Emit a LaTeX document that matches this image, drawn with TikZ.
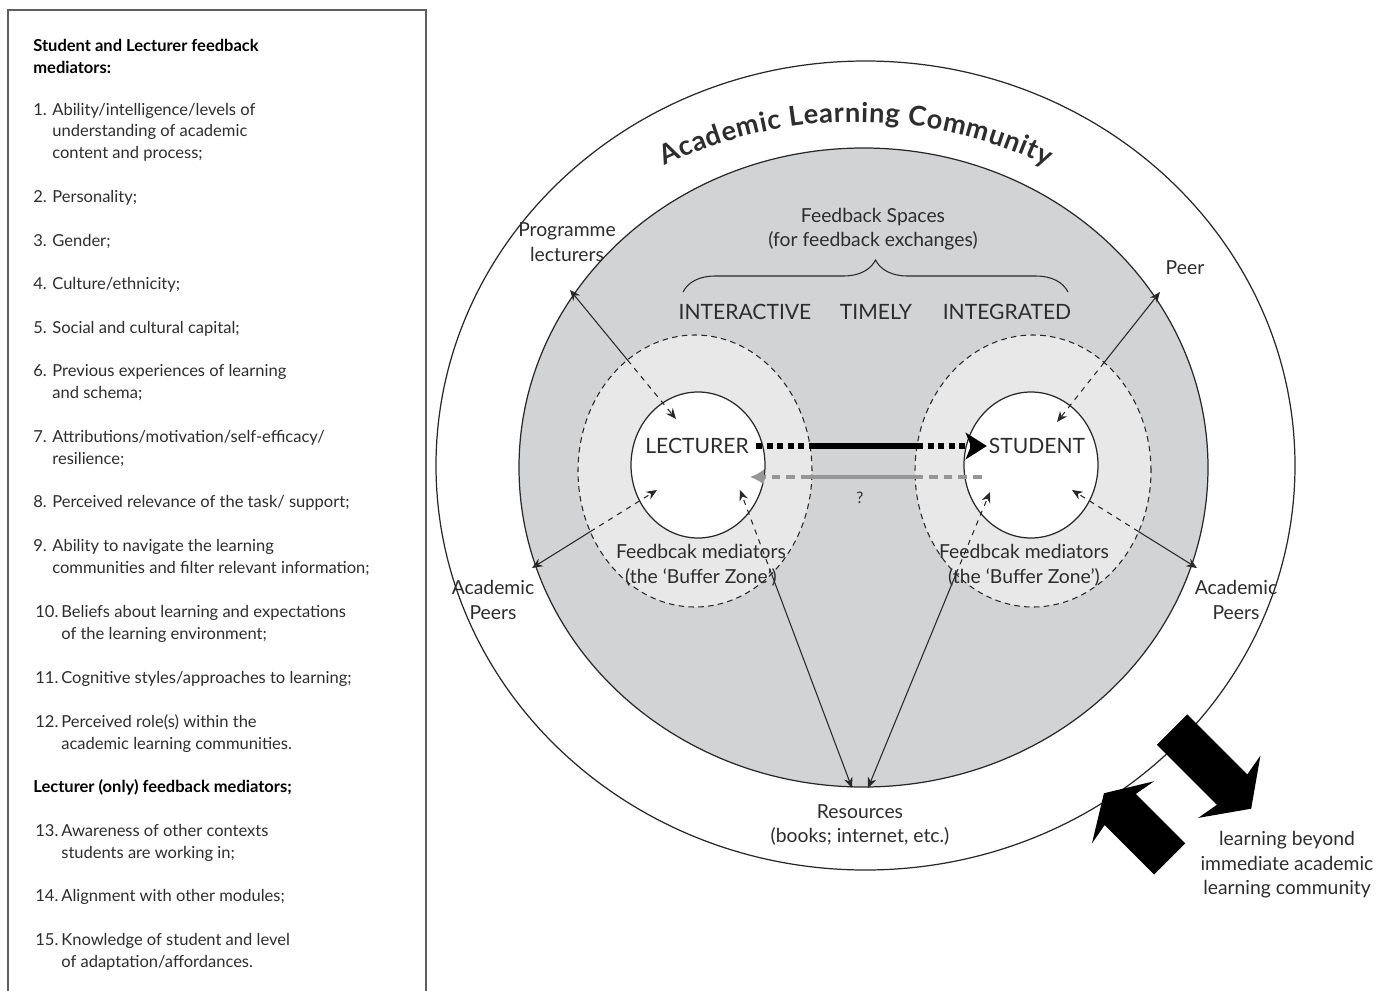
\documentclass[tikz,border=0pt]{standalone}
\usepackage{fontspec}
\setmainfont{Lato}
\usetikzlibrary{arrows.meta,decorations.text,decorations.pathreplacing}
\definecolor{figline}{RGB}{40,40,40}
\definecolor{figtext}{RGB}{45,45,45}
\definecolor{figframe}{RGB}{95,95,95}
\definecolor{figband}{RGB}{210,211,213}
\definecolor{figbuffer}{RGB}{232,232,233}
\definecolor{figback}{RGB}{150,150,150}
\tikzset{
  frame/.style ={draw=figframe, line width=0.9pt},
  ring/.style  ={draw=figline, line width=0.7pt},
  zone/.style  ={draw=figline, line width=0.6pt, dash pattern=on 3.2pt off 2.4pt},
  head/.style  ={font=\fontsize{9.4}{12.2}\selectfont\bfseries, text=black, inner sep=0pt, anchor=base west, align=left},
  num/.style   ={font=\fontsize{9.4}{12.2}\selectfont, text=figtext, inner sep=0pt, anchor=base west},
  item/.style  ={font=\fontsize{9.4}{12.2}\selectfont, text=figtext, inner sep=0pt, anchor=base west, align=left},
  lab/.style   ={font=\fontsize{11}{14}\selectfont, text=figtext, inner sep=1pt, align=center},
  caps/.style  ={font=\fontsize{12}{14}\selectfont, text=figtext, inner sep=1pt},
  link/.style  ={draw=figline, line width=0.6pt, -{Stealth[length=6pt,width=5pt]}},
  fwddot/.style={draw=black, line width=3pt, dash pattern=on 3.4pt off 2.6pt},
  fwdline/.style={draw=black, line width=3pt},
  backdot/.style={draw=figback, line width=2.8pt, dash pattern=on 5pt off 3.4pt},
  backline/.style={draw=figback, line width=2.8pt},
}
\newcommand\titlefont{\fontsize{15.5}{19}\selectfont\bfseries}
\begin{document}
\begin{tikzpicture}[x=0.02cm,y=0.02cm]
  \useasboundingbox (0,0) rectangle (1377,-991);
  % mediators panel (multi-line items sit on their last baseline)
  \draw[frame] (8,-1010) -- (8,-10) -- (426,-10) -- (426,-1010);
  \node[head] (medhead) at (33,-73) {Student and Lecturer feedback\\mediators:};
  \node[num] (n1) at (33,-115) {1.};
  \node[item] (m1) at (52,-158) {Ability/intelligence/levels of\\understanding of academic\\content and process;};
  \node[num] (n2) at (33,-202) {2.};
  \node[item] (m2) at (52,-202) {Personality;};
  \node[num] (n3) at (33,-246) {3.};
  \node[item] (m3) at (52,-246) {Gender;};
  \node[num] (n4) at (33,-289) {4.};
  \node[item] (m4) at (52,-289) {Culture/ethnicity;};
  \node[num] (n5) at (33,-333) {5.};
  \node[item] (m5) at (52,-333) {Social and cultural capital;};
  \node[num] (n6) at (33,-376) {6.};
  \node[item] (m6) at (52,-398) {Previous experiences of learning\\and schema;};
  \node[num] (n7) at (33,-442) {7.};
  \node[item] (m7) at (52,-464) {Attributions/motivation/self-efficacy/\\resilience;};
  \node[num] (n8) at (33,-507) {8.};
  \node[item] (m8) at (52,-507) {Perceived relevance of the task/ support;};
  \node[num] (n9) at (33,-551) {9.};
  \node[item] (m9) at (52,-573) {Ability to navigate the learning\\communities and filter relevant information;};
  \node[num] (n10) at (35,-617) {10.};
  \node[item] (m10) at (61,-639) {Beliefs about learning and expectations\\of the learning environment;};
  \node[num] (n11) at (35,-683) {11.};
  \node[item] (m11) at (61,-683) {Cognitive styles/approaches to learning;};
  \node[num] (n12) at (35,-727) {12.};
  \node[item] (m12) at (61,-749) {Perceived role(s) within the\\academic learning communities.};
  \node[head] (lechead) at (33,-792) {Lecturer (only) feedback mediators;};
  \node[num] (n13) at (35,-836) {13.};
  \node[item] (m13) at (61,-858) {Awareness of other contexts\\students are working in;};
  \node[num] (n14) at (35,-901) {14.};
  \node[item] (m14) at (61,-901) {Alignment with other modules;};
  \node[num] (n15) at (35,-945) {15.};
  \node[item] (m15) at (61,-967) {Knowledge of student and level\\of adaptation/affordances.};

  % community rings
  \draw[ring, fill=white] (865.5,-465.5) ellipse [x radius=429.5, y radius=404.5];
  \draw[ring, fill=figband] (863.5,-467.5) ellipse [x radius=344.5, y radius=319.5];
  \draw[zone, fill=figbuffer] (695,-471) ellipse [x radius=117, y radius=136];
  \draw[zone, fill=figbuffer] (1033,-471) ellipse [x radius=118, y radius=136];
  \draw[ring, fill=white] (698,-465) ellipse [x radius=67, y radius=73];
  \draw[ring, fill=white] (1031,-465) ellipse [x radius=67, y radius=73];
  \path[decorate, decoration={text effects along path, text={Academic Learning Community},
      text align=center, text effects/.cd, text along path,
      character widths={inner xsep=0.2pt, font=\titlefont},
      characters={text=figtext, font=\titlefont}}]
    (856,-560) ++(125:438) arc[start angle=125, end angle=55, radius=438];

  % feedback spaces
  \node[lab] (spaces) at (873,-229) {Feedback Spaces\\(for feedback exchanges)};
  \draw[figline, line width=0.6pt, decorate, decoration={brace, amplitude=0.64cm}] (683,-292) -- (1068,-292);
  \node[caps] (interactive) at (745,-312) {INTERACTIVE};
  \node[caps] (timely) at (876,-312) {TIMELY};
  \node[caps] (integrated) at (1007,-312) {INTEGRATED};

  \node[caps] (lecturer) at (697,-446) {LECTURER};
  \node[caps] (student) at (1037,-446) {STUDENT};
  \coordinate (fwdL) at (810,-446);
  \coordinate (fwdS) at (917,-446);
  \draw[fwddot, shorten <=3pt] (lecturer.east) -- (fwdL);
  \draw[fwdline] (fwdL) -- (fwdS);
  \draw[fwddot, -{Stealth[length=12pt,width=15pt,inset=3pt]}] (fwdS) -- (student.west);
  \coordinate (backS) at (982,-477);
  \coordinate (backR) at (917,-477);
  \coordinate (backL) at (810,-477);
  \coordinate (backtip) at (750,-477);
  \draw[backdot] (backS) -- (backR);
  \draw[backline] (backR) -- (backL);
  \draw[backdot, -{Latex[length=8pt,width=9pt]}] (backL) -- (backtip);
  \node[font=\fontsize{9}{11}\selectfont, text=figtext] (query) at (860,-498) {?};

  \node[lab] (medL) at (701,-565) {Feedbcak mediators\\(the ‘Buffer Zone’)};
  \node[lab] (medS) at (1024,-565) {Feedbcak mediators\\(the ‘Buffer Zone’)};

  % outer links
  \node[lab] (prog) at (567,-242) {Programme\\lecturers};
  \node[lab] (acpL) at (493,-600) {Academic\\Peers};
  \node[lab] (peer) at (1185,-268) {Peer};
  \node[lab] (acpR) at (1236,-600) {Academic\\Peers};
  \node[lab] (res) at (860,-825) {Resources\\(books; internet, etc.)};
  \coordinate (progtip) at (570,-290);
  \coordinate (progcut) at (627.5,-360);
  \coordinate (proglec) at (676,-419);
  \coordinate (alptip) at (532,-568);
  \coordinate (alpcut) at (590.3,-531.6);
  \coordinate (alplec) at (657,-490);
  \coordinate (peertip) at (1160,-292);
  \coordinate (peercut) at (1104.1,-362.5);
  \coordinate (peerstu) at (1057,-422);
  \coordinate (arptip) at (1197,-568);
  \coordinate (arpcut) at (1138.6,-531.6);
  \coordinate (arpstu) at (1072,-490);
  \coordinate (restipL) at (852,-788);
  \coordinate (rescutL) at (771.5,-573.9);
  \coordinate (reslec) at (740,-490);
  \coordinate (restipS) at (868,-788);
  \coordinate (rescutS) at (956,-574);
  \coordinate (resstu) at (990,-492);
  \draw[link] (progcut) -- (progtip);
  \draw[link, dashed] (progcut) -- (proglec);
  \draw[link] (alpcut) -- (alptip);
  \draw[link, dashed] (alpcut) -- (alplec);
  \draw[link] (peercut) -- (peertip);
  \draw[link, dashed] (peercut) -- (peerstu);
  \draw[link] (arpcut) -- (arptip);
  \draw[link, dashed] (arpcut) -- (arpstu);
  \draw[link] (rescutL) -- (restipL);
  \draw[link, dashed] (rescutL) -- (reslec);
  \draw[link] (rescutS) -- (restipS);
  \draw[link, dashed] (rescutS) -- (resstu);

  % learning beyond the community
  \fill[black, shift={(1172,-729.5)}, rotate=-45] (0,21.5) -- (85,21.5) -- (81,44) -- (112,0) -- (81,-44) -- (85,-21.5) -- (0,-21.5) -- cycle;
  \fill[black, shift={(1169.7,-859)}, rotate=135] (0,22) -- (70,22) -- (66,44) -- (93,0) -- (66,-44) -- (70,-22) -- (0,-22) -- cycle;
  \node[lab] (beyond) at (1287,-865) {learning beyond\\immediate academic\\learning community};
\end{tikzpicture}
\end{document}
